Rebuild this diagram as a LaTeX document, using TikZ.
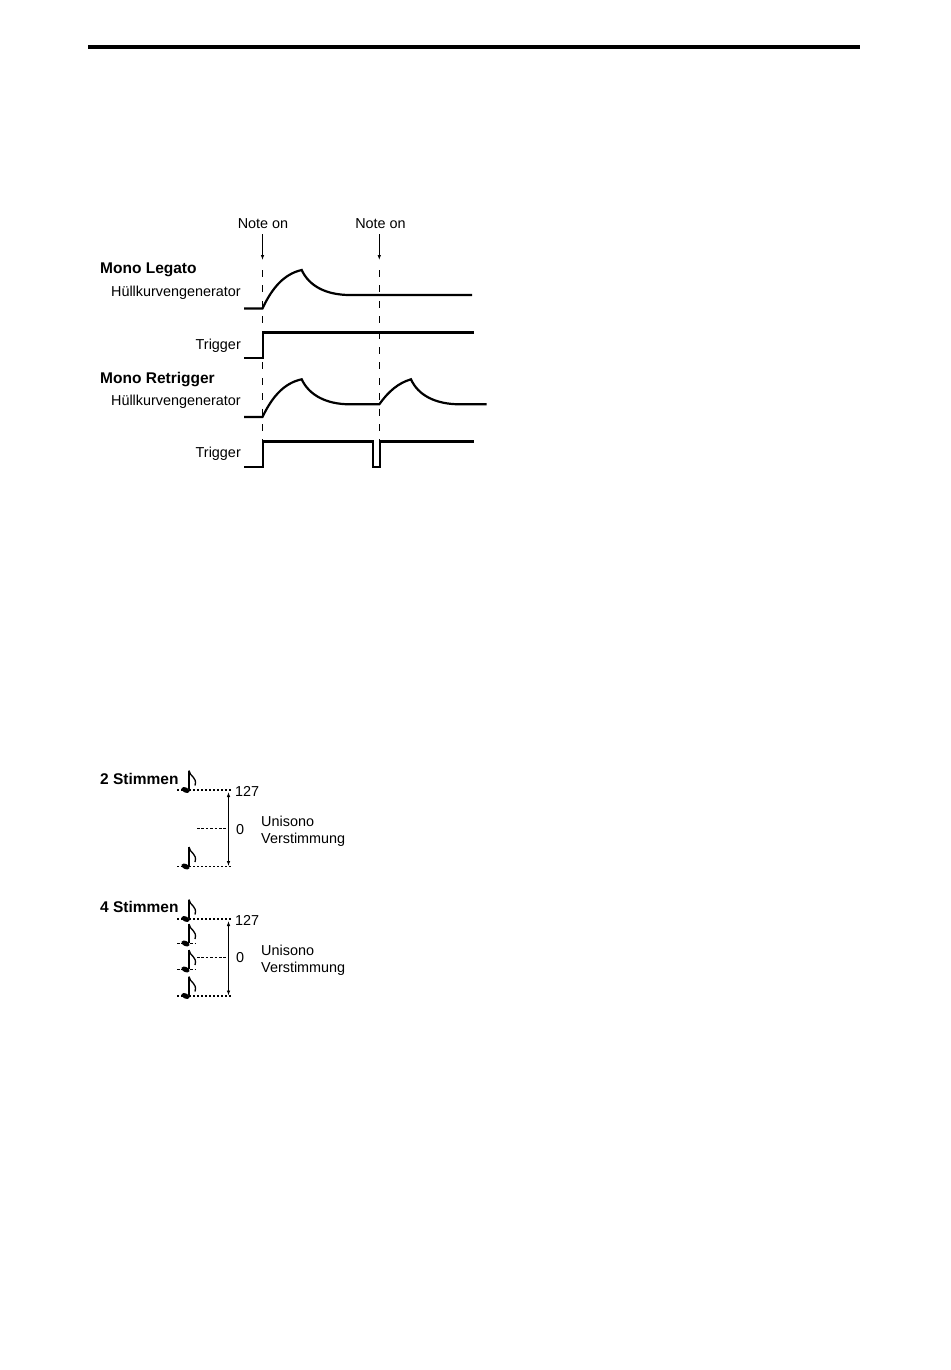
\documentclass[tikz,border=0pt]{standalone}
\usepackage{fontspec}
\setmainfont{Liberation Sans}
\usetikzlibrary{arrows.meta,positioning,calc}
\tikzset{
  lbl/.style={font=\fontsize{14.4}{16}\selectfont, inner sep=0pt},
  lblleft/.style={lbl, anchor=east},
  lblstart/.style={lbl, anchor=west},
  heading/.style={font=\fontsize{15.5}{17}\selectfont\bfseries, inner sep=0pt, anchor=west},
  curve/.style={line width=2.2pt, line join=miter},
  guide/.style={line width=1pt, dash pattern=on 7pt off 8.4pt},
  arrow/.style={-{Latex[length=5pt,width=3.6pt]}, line width=0.9pt},
  bothways/.style={{Latex[length=5pt,width=3.6pt]}-{Latex[length=5pt,width=3.6pt]}, line width=0.9pt},
  level/.style={line width=1.8pt, dash pattern=on 2.2pt off 1.8pt},
  thinlevel/.style={line width=1pt, dash pattern=on 2.6pt off 1.8pt},
  note/.pic={
    \fill[rotate=-25] (0,0) ellipse (4.3pt and 2.6pt);
    \draw[line width=1.3pt] (3.4,-1) -- (3.4,-19.5);
    \draw[line width=1.3pt] (3.4,-19.5) .. controls (4.5,-13) and (12,-13) .. (9.5,-4.5);
  }
}
\begin{document}
\begin{tikzpicture}[x=1pt,y=-1pt]
\useasboundingbox (0,0) rectangle (950,1370);
% ---- top rule ----
\coordinate (ruleL) at (88,47);
\coordinate (ruleR) at (860,47);
\draw[line width=3.6pt] (ruleL) -- (ruleR);
% ---- note on markers ----
\node[lbl] (noteA) at (263,224) {Note on};
\node[lbl] (noteB) at (380.5,224) {Note on};
\coordinate (tipA) at (262.5,260);
\coordinate (tipB) at (379.3,260);
\draw[arrow] (262.5,234) -- (tipA);
\draw[arrow] (379.3,234) -- (tipB);
\coordinate (guideAtop) at (262.4,270);
\coordinate (guideAend) at (262.4,441);
\coordinate (guideBtop) at (379.3,270);
\coordinate (guideBend) at (379.3,469);
\draw[guide] (guideAtop) -- (guideAend);
\draw[guide] (guideBtop) -- (guideBend);
% ---- mono legato ----
\node[heading] (legato) at (100,269.5) {Mono Legato};
\node[lblleft] (envA) at (241,292.5) {Hüllkurvengenerator};
\node[lblleft] (trigA) at (241,345.5) {Trigger};
\draw[curve] (244,308.5) -- (262.5,308.5)
  .. controls (272,288) and (284,274) .. (301.7,270)
  .. controls (309,286) and (326,295) .. (350,295) -- (472,295);
\draw[curve] (244,358) -- (263.3,358) -- (263.3,332.5) -- (474,332.5);
% ---- mono retrigger ----
\node[heading] (retrigger) at (100,380) {Mono Retrigger};
\node[lblleft] (envB) at (241,401.5) {Hüllkurvengenerator};
\node[lblleft] (trigB) at (241,453.5) {Trigger};
\draw[curve] (244,417) -- (262.5,417)
  .. controls (272,397) and (284,383) .. (301.7,379.3)
  .. controls (309,395) and (326,404.3) .. (350,404.3) -- (379.3,404.3)
  .. controls (388,392) and (398,383) .. (411,379.3)
  .. controls (418,395) and (435,404.3) .. (460,404.3) -- (486.5,404.3);
\draw[curve] (244,466.7) -- (263.3,466.7) -- (263.3,441.5) -- (373.2,441.5)
  -- (373.2,466.7) -- (380,466.7) -- (380,441.5) -- (474,441.5);
% ---- 2 stimmen ----
\node[heading] (twoV) at (100,778.5) {2 Stimmen};
\coordinate (twoTopL) at (177,790);
\coordinate (twoTopR) at (231,790);
\coordinate (twoBotL) at (177,866.5);
\coordinate (twoBotR) at (231,866.5);
\coordinate (twoMidL) at (197,828);
\coordinate (twoMidR) at (227,828);
\draw[level] (twoTopL) -- (twoTopR);
\draw[level] (twoBotL) -- (twoBotR);
\draw[thinlevel] (twoMidL) -- (twoMidR);
\draw[bothways] (228.5,792) -- (228.5,866);
\pic at (185.5,790) {note};
\pic at (185.5,866.5) {note};
\node[lblstart] (twoMax) at (235,791) {127};
\node[lblstart] (twoZero) at (236,829.5) {0};
\node[lblstart] (twoNameA) at (261,821.5) {Unisono};
\node[lblstart, below=6pt of twoNameA.south west, anchor=north west] (twoNameB) {Verstimmung};
% ---- 4 stimmen ----
\node[heading] (fourV) at (100,906.5) {4 Stimmen};
\coordinate (fourTopL) at (177,919);
\coordinate (fourTopR) at (231,919);
\coordinate (fourBotL) at (177,996);
\coordinate (fourBotR) at (231,996);
\coordinate (fourMidL) at (197,957.5);
\coordinate (fourMidR) at (227,957.5);
\draw[level] (fourTopL) -- (fourTopR);
\draw[level] (fourBotL) -- (fourBotR);
\draw[thinlevel] (fourMidL) -- (fourMidR);
\foreach \y in {943.5,969.5}
  \draw[thinlevel] (177,\y) -- (196,\y);
\draw[bothways] (228.5,921) -- (228.5,995.5);
\foreach \y in {919,943.5,969.5,996}
  \pic at (185.5,\y) {note};
\node[lblstart] (fourMax) at (235,920) {127};
\node[lblstart] (fourZero) at (236,958) {0};
\node[lblstart] (fourNameA) at (261,950) {Unisono};
\node[lblstart, below=6pt of fourNameA.south west, anchor=north west] (fourNameB) {Verstimmung};
\end{tikzpicture}
\end{document}
